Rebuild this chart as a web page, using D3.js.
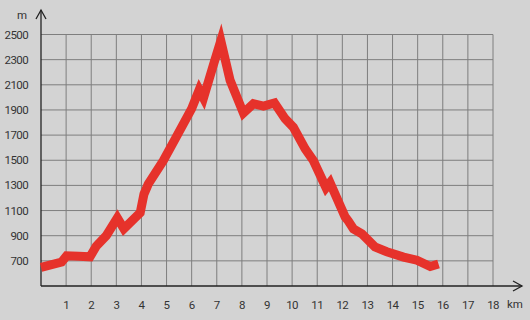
<!DOCTYPE html>
<html>
<head>
<meta charset="utf-8">
<script src="https://cdn.jsdelivr.net/npm/d3@7"></script>
<style>
  html, body { margin: 0; padding: 0; background: #d3d3d3; }
  svg { display: block; }
</style>
</head>
<body>
<div id="chart"></div>
<script>
// elevation profile: distance (km) and elevation (m)
const distances = [0, 0.82, 1.02, 1.5, 1.95, 2.2, 2.6, 3.04, 3.3, 3.95, 4.1, 4.27, 4.87, 5.4, 6.0, 6.3, 6.47, 6.84, 7.16, 7.53, 8.06, 8.46, 8.86, 9.3, 9.72, 10.05, 10.52, 10.85, 11.35, 11.51, 12.11, 12.24, 12.44, 12.78, 13.3, 13.77, 14.44, 14.97, 15.5, 15.83];
const elevations = [648, 690, 740, 736, 732, 816, 900, 1042, 955, 1082, 1230, 1310, 1496, 1690, 1910, 2060, 1995, 2242, 2450, 2136, 1875, 1950, 1930, 1955, 1830, 1762, 1590, 1496, 1282, 1322, 1050, 1016, 955, 915, 810, 772, 730, 705, 655, 675];
const xTicks = d3.range(1, 19);
const yTicks = [700, 900, 1100, 1300, 1500, 1700, 1900, 2100, 2300, 2500];

const width = 530, height = 320;
const margin = {top: 34.5, right: 37, bottom: 34, left: 41};

const svg = d3.select('#chart').append('svg')
  .attr('width', width)
  .attr('height', height);

svg.append('rect')
  .attr('width', width).attr('height', height)
  .attr('fill', '#d3d3d3');

const x = d3.scaleLinear().domain([0, 18]).range([margin.left, width - margin.right]);
const y = d3.scaleLinear().domain([500, 2500]).range([height - margin.bottom, margin.top]);

const grid = svg.append('g').attr('stroke', '#7e7e7e').attr('stroke-width', 1);
grid.selectAll('.vg').data(xTicks).enter().append('line')
  .attr('x1', d => x(d)).attr('x2', d => x(d))
  .attr('y1', y(2500)).attr('y2', y(500));
grid.selectAll('.hg').data(yTicks).enter().append('line')
  .attr('x1', x(0)).attr('x2', x(18))
  .attr('y1', d => y(d)).attr('y2', d => y(d));

// axes with arrows
const axisColor = '#222';
svg.append('line')
  .attr('x1', x(0)).attr('x2', x(0))
  .attr('y1', y(500)).attr('y2', 10)
  .attr('stroke', axisColor).attr('stroke-width', 1.3);
svg.append('path')
  .attr('d', `M${x(0) - 5},${19} L${x(0)},${10} L${x(0) + 5},${19}`)
  .attr('fill', 'none').attr('stroke', axisColor).attr('stroke-width', 1.3);
svg.append('line')
  .attr('x1', x(0)).attr('x2', 522)
  .attr('y1', y(500)).attr('y2', y(500))
  .attr('stroke', axisColor).attr('stroke-width', 1.3);
svg.append('path')
  .attr('d', `M${513},${y(500) - 5} L${522},${y(500)} L${513},${y(500) + 5}`)
  .attr('fill', 'none').attr('stroke', axisColor).attr('stroke-width', 1.3);

const labels = svg.append('g')
  .attr('font-family', 'Roboto, sans-serif')
  .attr('font-size', 11.5)
  .attr('letter-spacing', '-0.6px')
  .attr('fill', '#333');

labels.selectAll('.yl').data(yTicks).enter().append('text')
  .attr('x', 28).attr('y', d => y(d))
  .attr('dy', '0.35em')
  .attr('text-anchor', 'end')
  .text(d => d);

labels.selectAll('.xl').data(xTicks).enter().append('text')
  .attr('x', d => x(d)).attr('y', 305)
  .attr('dy', '0.35em')
  .attr('text-anchor', 'middle')
  .text(d => d);

labels.append('text').attr('x', 22).attr('y', 15).attr('dy', '0.35em')
  .attr('text-anchor', 'middle').attr('letter-spacing', '0').text('m');
labels.append('text').attr('x', 515).attr('y', 304).attr('dy', '0.35em')
  .attr('text-anchor', 'middle').attr('letter-spacing', '0').text('km');

const data = distances.map((d, i) => ({km: d, elev: elevations[i]}));
const line = d3.line().x(d => x(d.km)).y(d => y(d.elev));

svg.append('path')
  .datum(data)
  .attr('d', line)
  .attr('fill', 'none')
  .attr('stroke', '#e6322b')
  .attr('stroke-width', 9)
  .attr('stroke-linejoin', 'miter')
  .attr('stroke-linecap', 'butt');
</script>
</body>
</html>
